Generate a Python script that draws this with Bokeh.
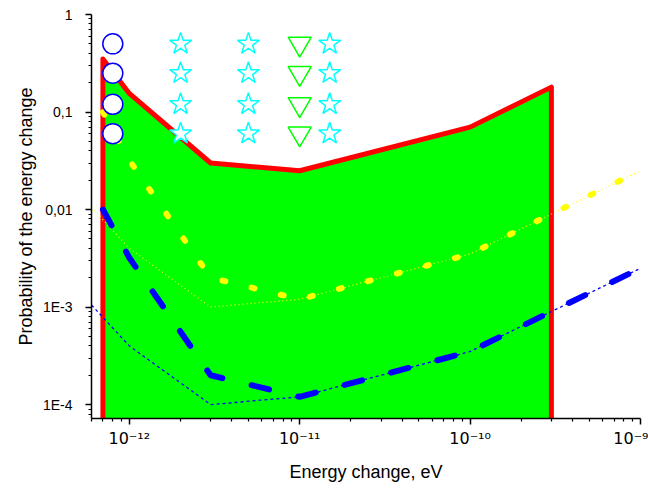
from bokeh.plotting import figure
from bokeh.models import Range1d, FixedTicker, CustomJSTickFormatter
from bokeh.embed import file_html
from bokeh.resources import INLINE

# ---- data ----
# upper envelope of the green region (red outline)
env_x = [7e-13, 1e-12, 3e-12, 1e-11, 1e-10, 3e-10]
env_y = [0.35, 0.155, 0.03, 0.025, 0.07, 0.18]

# thick curves
thick_x = [7e-13, 1e-12, 3e-12, 1e-11, 1e-10, 3e-10, 1e-9]
yellow_thick = [0.1, 0.032, 2e-3, 1.2e-3, 3.5e-3, 9e-3, 0.025]
blue_thick = [0.01, 3.2e-3, 2e-4, 1.2e-4, 3.5e-4, 9e-4, 2.5e-3]

# thin curves
thin_x = [6e-13, 1e-12, 3e-12, 1e-11, 1e-10, 3e-10, 1e-9]
yellow_thin = [0.0105, 4e-3, 1e-3, 1.2e-3, 3.5e-3, 9e-3, 0.025]
blue_thin = [1.05e-3, 4e-4, 1e-4, 1.2e-4, 3.5e-4, 9e-4, 2.5e-3]

# marker rows
marker_y = [0.5, 0.25, 0.12, 0.06]
circle_x = 8e-13
star_x = [2e-12, 5e-12, 1.5e-11]
triangle_x = 1e-11

# axes
x_major = [1e-12, 1e-11, 1e-10, 1e-9]
x_tick_labels = ["10\u207b\u00b9\u00b2", "10\u207b\u00b9\u00b9",
                 "10\u207b\u00b9\u2070", "10\u207b\u2079"]
y_major = [1e-4, 1e-3, 1e-2, 1e-1, 1]
y_tick_labels = ["1E-4", "1E-3", "0,01", "0,1", "1"]
x_title = "Energy change, eV"
y_title = "Probability of the energy change"

FONT = "Liberation Sans"
FLOOR = 1e-7

p = figure(width=648, height=489, x_axis_type="log", y_axis_type="log",
           x_range=Range1d(6e-13, 1e-9), y_range=Range1d(7.2e-5, 1),
           output_backend="svg", toolbar_location=None,
           min_border_left=91, min_border_right=8, min_border_top=14,
           min_border_bottom=71)
p.xgrid.visible = False
p.ygrid.visible = False
p.outline_line_color = None
p.background_fill_color = "white"
p.border_fill_color = "white"

# green area with red outline
poly_x = [env_x[0]] + env_x + [env_x[-1]]
poly_y = [FLOOR] + env_y + [FLOOR]
p.patch(poly_x, poly_y, fill_color="#00FF00", line_color=None)
p.line(poly_x, poly_y, line_color="#FF0000", line_width=5, line_join="round")

# thin curves
p.line(thin_x, yellow_thin, line_color="#FFFF00", line_width=1.3, line_dash="1 3")
p.line(thin_x, blue_thin, line_color="#0000FF", line_width=1.3, line_dash="3 3")

# thick curves
p.line(thick_x, yellow_thick, line_color="#FFFF00", line_width=6,
       line_dash="3 27", line_cap="round")
p.line(thick_x, blue_thick, line_color="#0000FF", line_width=6,
       line_dash="18 30", line_cap="round")

# markers
p.scatter([circle_x] * len(marker_y), marker_y, marker="circle", size=20,
          fill_color="white", line_color="#0000FF", line_width=1.5)
for sx in star_x:
    p.scatter([sx] * len(marker_y), marker_y, marker="star", size=23,
              fill_color="white", line_color="#00FFFF", line_width=1.5)
p.scatter([triangle_x] * len(marker_y), marker_y, marker="inverted_triangle",
          size=23, fill_color="white", line_color="#00FF00", line_width=1.5)

# axes styling
x_minor = [m * 10.0 ** e for e in range(-13, -9) for m in range(2, 10)]
y_minor = [m * 10.0 ** e for e in range(-5, 0) for m in range(2, 10)]
p.xaxis.ticker = FixedTicker(ticks=x_major, minor_ticks=x_minor)
p.yaxis.ticker = FixedTicker(ticks=y_major, minor_ticks=y_minor)
p.xaxis.formatter = CustomJSTickFormatter(
    args=dict(labels=x_tick_labels),
    code="const e = Math.round(Math.log10(tick)); return labels[e + 12];")
p.yaxis.formatter = CustomJSTickFormatter(
    args=dict(labels=y_tick_labels),
    code="const e = Math.round(Math.log10(tick)); return labels[e + 4];")

for ax in (p.xaxis[0], p.yaxis[0]):
    ax.axis_line_width = 1.5
    ax.axis_line_color = "black"
    ax.major_tick_in = 0
    ax.major_tick_out = 6
    ax.minor_tick_in = 0
    ax.minor_tick_out = 3
    ax.major_tick_line_width = 1.5
    ax.minor_tick_line_width = 1.2
    ax.major_tick_line_color = "black"
    ax.minor_tick_line_color = "black"
    ax.major_label_text_color = "black"
    ax.axis_label_text_font = FONT
    ax.axis_label_text_font_size = "18px"
    ax.axis_label_text_font_style = "normal"
    ax.axis_label_text_color = "black"

p.yaxis.major_label_text_font = FONT
p.yaxis.major_label_text_font_size = "14px"
p.xaxis.major_label_text_font = "DejaVu Sans"
p.xaxis.major_label_text_font_size = "16px"
p.xaxis.axis_label = x_title
p.yaxis.axis_label = y_title
p.yaxis.major_label_standoff = 13
p.yaxis.axis_label_standoff = 4
p.xaxis.major_label_standoff = 4
p.xaxis.axis_label_standoff = 11

open("out.html", "w").write(file_html(p, INLINE))
